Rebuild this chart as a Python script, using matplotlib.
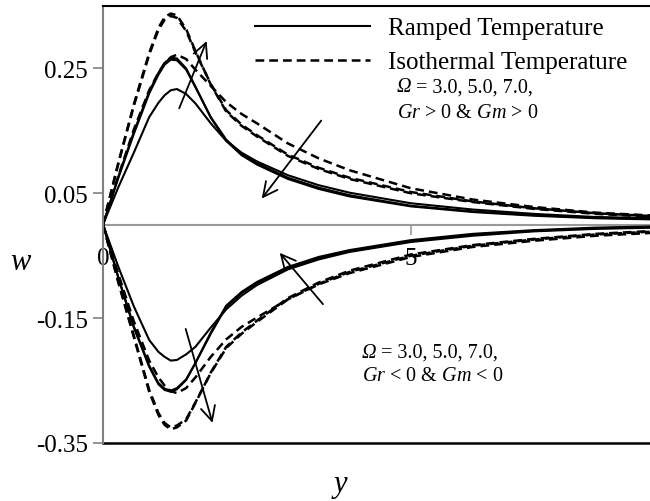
import matplotlib
matplotlib.use("Agg")
import matplotlib.pyplot as plt

plt.rcParams['font.family'] = ['Liberation Serif', 'DejaVu Serif']
plt.rcParams['mathtext.fontset'] = 'custom'
plt.rcParams['mathtext.rm'] = 'Liberation Serif'
plt.rcParams['mathtext.it'] = 'Liberation Serif:italic'

# distance y
y = [0, 0.25, 0.5, 0.75, 0.9, 1.0, 1.1, 1.2, 1.35, 1.5, 1.75, 2.0, 2.25, 2.5,
     3.0, 3.5, 4.0, 5.0, 6.0, 7.0, 8.0, 9.0]

# Gr > 0 & Gm > 0, ramped temperature (Omega = 3, 5, 7)
ramp_pos_3 = [0, 0.060, 0.115, 0.172, 0.195, 0.207, 0.215, 0.217, 0.209, 0.194,
              0.162, 0.134, 0.115, 0.101, 0.079, 0.063, 0.051, 0.034, 0.024, 0.017, 0.012, 0.010]
ramp_pos_5 = [0, 0.075, 0.145, 0.210, 0.240, 0.256, 0.264, 0.263, 0.248, 0.220,
              0.172, 0.136, 0.113, 0.098, 0.075, 0.059, 0.047, 0.030, 0.021, 0.015, 0.011, 0.009]
ramp_pos_7 = [0, 0.077, 0.148, 0.213, 0.243, 0.259, 0.267, 0.266, 0.250, 0.221,
              0.171, 0.134, 0.111, 0.096, 0.073, 0.057, 0.045, 0.029, 0.020, 0.014, 0.010, 0.008]
# Gr > 0 & Gm > 0, isothermal temperature
iso_pos_3 = [0, 0.078, 0.152, 0.215, 0.243, 0.258, 0.268, 0.272, 0.265, 0.248,
             0.222, 0.196, 0.177, 0.162, 0.130, 0.106, 0.087, 0.058, 0.040, 0.028, 0.019, 0.014]
iso_pos_5 = [0, 0.098, 0.190, 0.272, 0.312, 0.328, 0.334, 0.331, 0.310, 0.276,
             0.225, 0.183, 0.160, 0.143, 0.112, 0.091, 0.075, 0.052, 0.037, 0.026, 0.018, 0.013]
iso_pos_7 = [0, 0.099, 0.192, 0.275, 0.315, 0.332, 0.338, 0.335, 0.313, 0.278,
             0.224, 0.181, 0.158, 0.141, 0.110, 0.089, 0.073, 0.050, 0.036, 0.025, 0.017, 0.012]

# Gr < 0 & Gm < 0, ramped temperature
ramp_neg_3 = [0, -0.068, -0.131, -0.185, -0.204, -0.212, -0.218, -0.217, -0.208, -0.196,
              -0.165, -0.136, -0.114, -0.097, -0.072, -0.056, -0.044, -0.028, -0.018, -0.011, -0.007, -0.005]
ramp_neg_5 = [0, -0.085, -0.163, -0.226, -0.254, -0.263, -0.266, -0.262, -0.248, -0.222,
              -0.175, -0.132, -0.110, -0.094, -0.070, -0.054, -0.043, -0.027, -0.016, -0.010, -0.006, -0.004]
ramp_neg_7 = [0, -0.086, -0.165, -0.228, -0.256, -0.265, -0.268, -0.264, -0.249, -0.222,
              -0.173, -0.130, -0.108, -0.092, -0.068, -0.052, -0.041, -0.025, -0.015, -0.009, -0.005, -0.003]
# Gr < 0 & Gm < 0, isothermal temperature
iso_neg_3 = [0, -0.080, -0.155, -0.218, -0.245, -0.258, -0.267, -0.270, -0.262, -0.245,
             -0.212, -0.184, -0.164, -0.149, -0.120, -0.096, -0.078, -0.052, -0.036, -0.026, -0.018, -0.013]
iso_neg_5 = [0, -0.092, -0.178, -0.265, -0.302, -0.318, -0.325, -0.322, -0.312, -0.285,
             -0.238, -0.198, -0.175, -0.156, -0.120, -0.095, -0.076, -0.050, -0.034, -0.024, -0.016, -0.011]
iso_neg_7 = [0, -0.093, -0.180, -0.268, -0.305, -0.321, -0.328, -0.325, -0.314, -0.286,
             -0.237, -0.196, -0.173, -0.154, -0.118, -0.093, -0.074, -0.048, -0.033, -0.023, -0.015, -0.010]

ramped = [ramp_pos_3, ramp_pos_5, ramp_pos_7, ramp_neg_3, ramp_neg_5, ramp_neg_7]
isothermal = [iso_pos_3, iso_pos_5, iso_pos_7, iso_neg_3, iso_neg_5, iso_neg_7]

yticks = [0.25, 0.05, -0.15, -0.35]
ytick_labels = ['0.25', '0.05', '-0.15', '-0.35']
xticks = [0, 5]
xtick_labels = ['0', '5']

# arrows (tail, head) showing the effect of increasing Omega
arrows = [((1.22, 0.182), (1.70, 0.298)),
          ((3.57, 0.170), (2.55, 0.038)),
          ((1.33, -0.163), (1.79, -0.322)),
          ((3.60, -0.131), (2.84, -0.042))]

fig = plt.figure(figsize=(6.5, 5.02), dpi=100)
ax = fig.add_axes([103/650, 1 - 444/502, 1 - 103/650, (444 - 7)/502])

dash = (0, (3.5, 2))
for i, w in enumerate(ramped):
    ax.plot(y, w, color='black', lw=1.5,
            label='Ramped Temperature' if i == 0 else None)
for i, w in enumerate(isothermal):
    ax.plot(y, w, color='black', lw=1.8, linestyle=dash,
            label='Isothermal Temperature' if i == 0 else None)

for tail, head in arrows:
    ax.annotate('', xy=head, xytext=tail,
                arrowprops=dict(arrowstyle='->', color='black', lw=1.3,
                                mutation_scale=26))

ax.set_xlim(0, 8.88)
ax.set_ylim(-0.35, 0.35)

# box and axes
ax.spines['right'].set_visible(False)
ax.spines['top'].set_color('black')
ax.spines['top'].set_linewidth(1.5)
ax.spines['left'].set_color('#808080')
ax.spines['left'].set_linewidth(1.5)
ax.spines['bottom'].set_position(('data', 0))
ax.spines['bottom'].set_color('#999999')
ax.spines['bottom'].set_linewidth(1.5)
ax.spines['bottom'].set_zorder(0)
ax.axhline(-0.35, color='black', lw=1.8, clip_on=False)

ax.set_yticks(yticks)
ax.set_yticklabels(ytick_labels)
ax.set_xticks(xticks)
ax.set_xticklabels(xtick_labels)
ax.tick_params(axis='y', direction='out', length=7, width=1.2, color='#808080',
               labelsize=18, pad=4)
ax.tick_params(axis='x', direction='out', length=7, width=1.2, color='#999999',
               labelsize=18, pad=9)

fig.text(20/650, 1 - 262/502, 'w', fontsize=22, style='italic', ha='center', va='center')
fig.text(340/650, 1 - 485/502, 'y', fontsize=22, style='italic', ha='center', va='center')

ax.legend(loc='upper left', bbox_to_anchor=(255/650, 1 - 18/502),
          bbox_transform=fig.transFigure, frameon=False, fontsize=18,
          handlelength=4.6, handletextpad=0.7, labelspacing=0.45,
          borderpad=0, borderaxespad=0)

# parameter notes: italic Omega drawn separately (mathtext keeps capital Greek upright)
notes = [(397, 88, 113, '>'), (362, 353, 377, '<')]
for px, py1, py2, sign in notes:
    fig.text(px/650, 1 - py1/502, 'Ω', fontsize=14.5, style='italic', va='center')
    fig.text((px + 14)/650, 1 - py1/502, ' = 3.0, 5.0, 7.0,', fontsize=14.5, va='center')
    fig.text(px/650, 1 - py2/502, rf'$Gr$ {sign} 0 & $Gm$ {sign} 0', fontsize=14.5, va='center')

fig.savefig('out.png', dpi=100)
